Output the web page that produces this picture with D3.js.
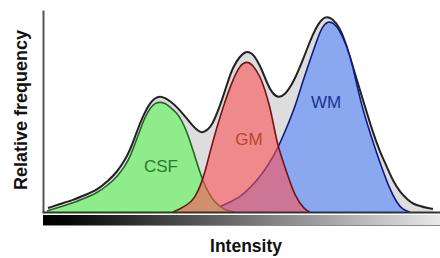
<!DOCTYPE html>
<html>
<head>
<meta charset="utf-8">
<script src="https://cdn.jsdelivr.net/npm/d3@7"></script>
<style>
  body { margin: 0; background: #fff; }
  svg { display: block; font-family: "Liberation Sans", Arial, sans-serif; }
</style>
</head>
<body>
<div id="chart"></div>
<script>
// histogram of intensities, [intensity, relative frequency]
var totalCurve = [[5,4],[17,8],[30,12],[42,17],[54,22],[65,31],[74,40],[82,52],[87,62],[92,75],[97,89],[102,100],[107,109],[112,114],[117,116],[122,114],[127,111],[134,105],[141,97],[149,87],[155,81],[159,79],[165,82],[170,89],[175,101],[180,115],[185,131],[190,145],[197,156],[203,161],[209,159],[214,152],[219,142],[224,129],[229,119],[235,114],[242,117],[250,129],[257,145],[264,163],[270,178],[275,188],[282,196],[289,194],[297,184],[303,168],[310,145],[320,112],[330,79],[337,60],[344,45],[350,31],[357,20],[364,13],[370,8],[377,6],[384,4],[390,3]];

var csfCurve = [[4,1],[17,5],[30,9],[42,14],[54,19],[65,27],[74,35],[82,46],[87,55],[92,68],[97,82],[102,95],[107,104],[112,109],[117,110],[122,109],[127,105],[134,99],[139,91],[144,80],[150,62],[157,39],[162,26],[169,13],[177,5],[185,1],[192,0]];

var gmCurve = [[130,0],[137,3],[147,9],[152,15],[157,25],[162,40],[167,60],[174,85],[180,105],[190,133],[197,147],[204,151],[210,147],[217,136],[222,122],[227,105],[231,85],[235,65],[244,39],[252,15],[262,2],[267,0]];

var wmCurve = [[157,0],[167,2],[177,5],[187,10],[197,15],[207,24],[217,35],[227,50],[234,62],[244,85],[252,105],[259,128],[267,152],[274,172],[279,185],[285,191],[291,189],[297,181],[303,168],[310,146],[317,112],[327,79],[337,49],[347,22],[354,9],[360,2],[367,0]];

var classNames = ["CSF", "GM", "WM"];
var labelSpots = [[118, 40], [206, 67], [283, 104]];

var width = 440, height = 258;

var svg = d3.select("#chart")
    .append("svg")
    .attr("width", width)
    .attr("height", height);

var xScale = d3.scaleLinear().domain([0, 400]).range([43, 443]);
var yScale = d3.scaleLinear().domain([0, 200]).range([212, 12]);

var area = d3.area()
    .x(d => xScale(d[0]))
    .y0(yScale(0))
    .y1(d => yScale(d[1]))
    .curve(d3.curveBasis);

var line = d3.line()
    .x(d => xScale(d[0]))
    .y(d => yScale(d[1]))
    .curve(d3.curveBasis);

// gradient bar under the axis
var grad = svg.append("defs").append("linearGradient")
    .attr("id", "intensityGrad");
grad.append("stop").attr("offset", "0%").attr("stop-color", "#000");
grad.append("stop").attr("offset", "6%").attr("stop-color", "#050505");
grad.append("stop").attr("offset", "50%").attr("stop-color", "#707070");
grad.append("stop").attr("offset", "100%").attr("stop-color", "#e8e8e8");

svg.append("rect")
    .attr("x", 43).attr("y", 215)
    .attr("width", 397).attr("height", 10)
    .attr("fill", "url(#intensityGrad)");
svg.append("line")
    .attr("x1", 43).attr("x2", 440)
    .attr("y1", 225.5).attr("y2", 225.5)
    .attr("stroke", "#8a8a8a");

// total histogram
svg.append("path")
    .datum(totalCurve)
    .attr("d", area)
    .attr("fill", "#dddddd");

// class distributions
var curves = [
    {data: wmCurve, fill: "#89a8f0", opacity: 1, stroke: "#0c1a86"},
    {data: csfCurve, fill: "#8eec8b", opacity: 1, stroke: "#1d6b1d"},
    {data: gmCurve, fill: "#fa5356", opacity: 0.6, stroke: "#7a1212"}
];

svg.append("path")
    .datum(totalCurve)
    .attr("d", line)
    .attr("fill", "none")
    .attr("stroke", "#222")
    .attr("stroke-width", 2);

curves.forEach(c => {
    svg.append("path")
        .datum(c.data)
        .attr("d", area)
        .attr("fill", c.fill)
        .attr("fill-opacity", c.opacity);
    svg.append("path")
        .datum(c.data)
        .attr("d", line)
        .attr("fill", "none")
        .attr("stroke", c.stroke)
        .attr("stroke-width", 1.6);
});

// class labels
var labelColors = ["#2b7a2b", "#b4472e", "#1b3492"];
svg.selectAll(".classLabel")
    .data(classNames)
    .enter()
    .append("text")
    .attr("class", "classLabel")
    .attr("x", (d, i) => xScale(labelSpots[i][0]))
    .attr("y", (d, i) => yScale(labelSpots[i][1]))
    .attr("text-anchor", "middle")
    .attr("font-size", "17px")
    .attr("fill", (d, i) => labelColors[i])
    .text(d => d);

// axes (lines only, no ticks)
svg.append("g")
    .attr("transform", "translate(43,0)")
    .call(d3.axisLeft(d3.scaleLinear().range([212, 10])).ticks(0).tickSizeOuter(0))
    .select(".domain")
    .attr("stroke", "#555")
    .attr("stroke-width", 2);

svg.append("g")
    .attr("transform", "translate(0,212)")
    .call(d3.axisBottom(d3.scaleLinear().range([42, 440])).ticks(0).tickSizeOuter(0))
    .select(".domain")
    .attr("stroke", "#333")
    .attr("stroke-width", 2);

// axis titles
svg.append("text")
    .attr("transform", "translate(27,110) rotate(-90)")
    .attr("text-anchor", "middle")
    .attr("font-size", "18px")
    .attr("font-weight", "bold")
    .attr("fill", "#111")
    .text("Relative frequency");

svg.append("text")
    .attr("x", 246)
    .attr("y", 252)
    .attr("text-anchor", "middle")
    .attr("font-size", "17.5px")
    .attr("font-weight", "bold")
    .attr("fill", "#111")
    .text("Intensity");
</script>
</body>
</html>
